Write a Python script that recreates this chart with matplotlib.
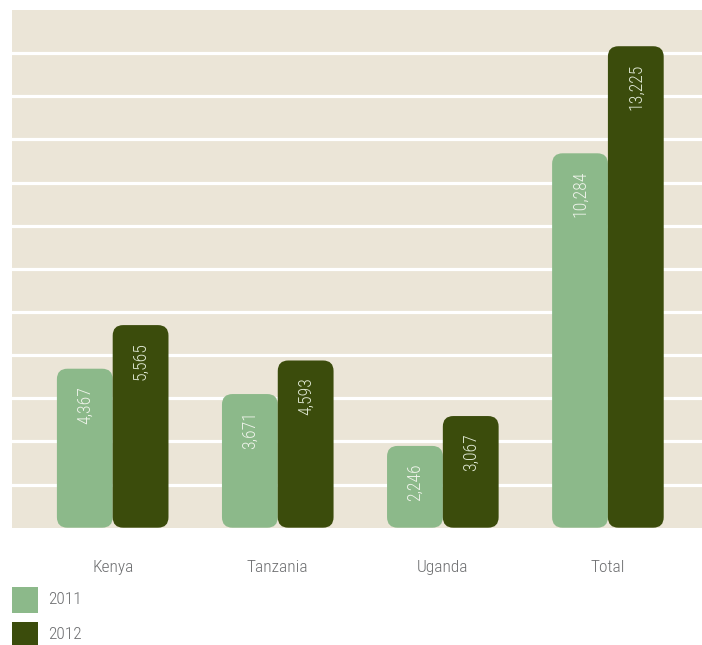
import numpy as np
import matplotlib
matplotlib.use("Agg")
import matplotlib.pyplot as plt
from matplotlib.patches import FancyBboxPatch, Rectangle
from matplotlib import font_manager

categories = ["Kenya", "Tanzania", "Uganda", "Total"]
series_names = ["2011", "2012"]
values_2011 = [4367, 3671, 2246, 10284]
values_2012 = [5565, 4593, 3067, 13225]

BG = "#ebe5d7"
LIGHT = "#8cb98a"
DARK = "#3b4c0c"
LABEL_LIGHT = "#eef3ea"
LABEL_DARK = "#dfe8d4"
GREY = "#6d6e70"

available = {f.name for f in font_manager.fontManager.ttflist}
family = next((f for f in ["Roboto Condensed", "Liberation Sans Narrow",
                           "Open Sans Condensed", "Roboto", "Lato"]
               if f in available), "DejaVu Sans")
plt.rcParams["font.family"] = [family, "DejaVu Sans"]
plt.rcParams["font.weight"] = "light"

W, H, DPI = 702, 645, 100
fig = plt.figure(figsize=(W / DPI, H / DPI), dpi=DPI)
ax = fig.add_axes([12 / W, 1 - 527.7 / H, 690 / W, (527.7 - 10) / H])
ax.set_facecolor(BG)

ymax = 14220
ax.set_ylim(0, ymax)
ax.set_xlim(-0.61, 3.57)
for gy in np.linspace(0, ymax, 13)[1:-1]:
    ax.axhline(gy, color="white", lw=2.3, zorder=1)

x = np.arange(len(categories))
bw = 0.338
bars = []
bars.append(ax.bar(x - bw / 2, values_2011, bw, color=LIGHT))
bars.append(ax.bar(x + bw / 2, values_2012, bw, color=DARK))

# Convert each rectangle into a rounded box of the same extent
fig.canvas.draw()
px_x = ax.transData.transform((1, 0))[0] - ax.transData.transform((0, 0))[0]
px_y = ax.transData.transform((0, 1000))[1] - ax.transData.transform((0, 0))[1]
radius_px = 10.5
rx = radius_px / px_x
aspect = (px_x / px_y) * 1000
for container in bars:
    for rect in container:
        rect.set_visible(False)
        xr, yr = rect.get_x(), rect.get_y()
        wr, hr = rect.get_width(), rect.get_height()
        patch = FancyBboxPatch((xr, yr), wr, hr,
                               boxstyle=f"round,pad=0,rounding_size={rx}",
                               mutation_aspect=aspect,
                               facecolor=rect.get_facecolor(), edgecolor="none",
                               zorder=3)
        ax.add_patch(patch)

# Value labels, rotated, near the top of each bar
offset = 17 / px_y * 1000
for container, vals, col in zip(bars, [values_2011, values_2012], [LABEL_LIGHT, LABEL_DARK]):
    for rect, v in zip(container, vals):
        cx = rect.get_x() + rect.get_width() / 2
        ax.text(cx, v - offset, f"{v:,}", rotation=90, ha="center", va="top",
                color=col, fontsize=12.8, zorder=4)

for s in ax.spines.values():
    s.set_visible(False)
ax.set_yticks([])
ax.set_xticks(x)
ax.set_xticklabels(categories, color=GREY, fontsize=12.5)
ax.tick_params(axis="x", length=0, pad=23)

# Legend: colour squares with year labels
sq = 25.7
for i, (name, col) in enumerate(zip(series_names, [LIGHT, DARK])):
    top = 587 + i * 35
    fig.add_artist(Rectangle((12 / W, 1 - (top + sq) / H), sq / W, sq / H,
                             transform=fig.transFigure, facecolor=col,
                             edgecolor="none"))
    fig.text(48 / W, 1 - (top + sq / 2) / H, name, ha="left", va="center",
             color=GREY, fontsize=12.5)

fig.savefig("out.png", dpi=DPI)
